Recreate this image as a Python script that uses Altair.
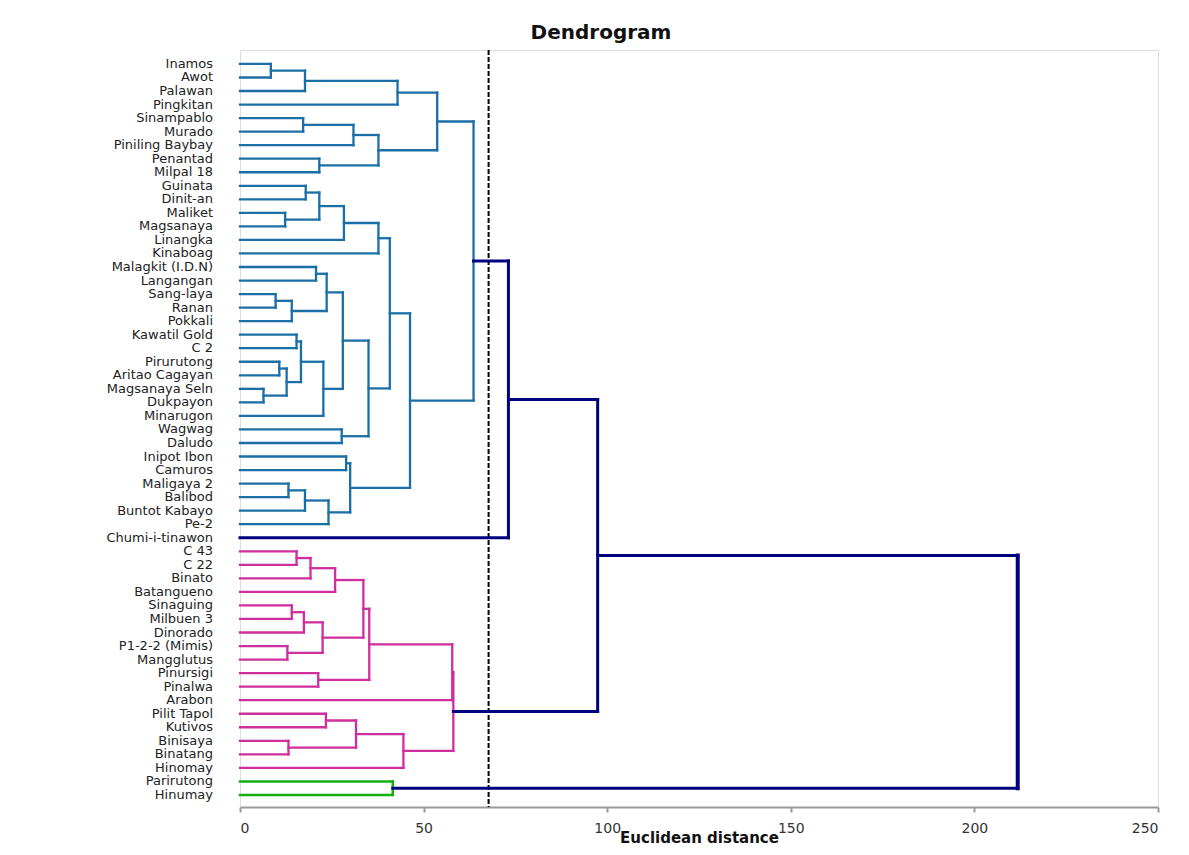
import altair as alt
import pandas as pd

leaves = ["Inamos", "Awot", "Palawan", "Pingkitan", "Sinampablo", "Murado",
          "Piniling Baybay", "Penantad", "Milpal 18", "Guinata", "Dinit-an",
          "Maliket", "Magsanaya", "Linangka", "Kinaboag", "Malagkit  (I.D.N)",
          "Langangan", "Sang-laya", "Ranan", "Pokkali", "Kawatil Gold", "C 2",
          "Pirurutong", "Aritao Cagayan", "Magsanaya Seln", "Dukpayon",
          "Minarugon", "Wagwag", "Daludo", "Inipot Ibon", "Camuros",
          "Maligaya 2", "Balibod", "Buntot Kabayo", "Pe-2", "Chumi-i-tinawon",
          "C 43", "C 22", "Binato", "Batangueno", "Sinaguing", "Milbuen 3",
          "Dinorado", "P1-2-2 (Mimis)", "Mangglutus", "Pinursigi", "Pinalwa",
          "Arabon", "Pilit Tapol", "Kutivos", "Binisaya", "Binatang",
          "Hinomay", "Parirutong", "Hinumay"]

# merges: (child a, child b, height, group); child = leaf name or earlier merge index
merge_a = ["Inamos", 0, 1, "Sinampablo", 3, "Penantad", 4, 2, "Guinata", "Maliket",
           8, 10, 11, "Malagkit  (I.D.N)", "Sang-laya", 14, 13, "Kawatil Gold",
           "Pirurutong", "Magsanaya Seln", 18, 17, 21, 16, "Wagwag", 23, 12,
           "Inipot Ibon", "Maligaya 2", 28, 29, 27, 26, 7, 33,
           "C 43", 35, 36, "Sinaguing", 38, "P1-2-2 (Mimis)", 39, 37, "Pinursigi",
           42, 44, "Pilit Tapol", "Binisaya", 46, 48, 45, 34, "Parirutong", 51]
merge_b = ["Awot", "Palawan", "Pingkitan", "Murado", "Piniling Baybay", "Milpal 18",
           5, 6, "Dinit-an", "Magsanaya", 9, "Linangka", "Kinaboag", "Langangan",
           "Ranan", "Pokkali", 15, "C 2", "Aritao Cagayan", "Dukpayon", 19, 20,
           "Minarugon", 22, "Daludo", 24, 25, "Camuros", "Balibod", "Buntot Kabayo",
           "Pe-2", 30, 31, 32, "Chumi-i-tinawon",
           "C 22", "Binato", "Batangueno", "Milbuen 3", "Dinorado", "Mangglutus",
           40, 41, "Pinalwa", 43, "Arabon", "Kutivos", "Binatang", 47, "Hinomay",
           49, 50, "Hinumay", 52]
merge_h = [8.4, 17.7, 42.9, 17.2, 30.9, 21.6, 37.7, 53.7, 17.9, 12.3,
           21.6, 28.3, 37.7, 20.7, 9.7, 14.1, 23.6, 15.4, 10.7, 6.4,
           12.7, 16.6, 22.7, 28.0, 27.7, 35.0, 40.8, 28.9, 13.2, 17.7,
           24.1, 30.0, 46.3, 63.6, 73.1,
           15.4, 19.2, 25.9, 14.1, 17.4, 12.9, 22.5, 33.6, 21.3, 35.2,
           57.8, 23.4, 13.2, 31.6, 44.5, 58.1, 97.4, 41.6, 211.8]
merge_group = ["blue"] * 34 + ["navy"] + ["pink"] * 16 + ["navy", "green", "navy"]

cutoff = [67.7]

group_colors = {"blue": "#1a6fa6", "navy": "#00007f", "pink": "#cf2f9e", "green": "#12b012"}
group_width = {"blue": 2.3, "navy": 3.0, "pink": 2.3, "green": 2.5}

leaf_pos = {n: i for i, n in enumerate(leaves)}
pos, hgt = [], []
segs = []
for k, (a, b, h, g) in enumerate(zip(merge_a, merge_b, merge_h, merge_group)):
    def info(c):
        if isinstance(c, str):
            return leaf_pos[c], 0.0
        return pos[c], hgt[c]
    pa, ha = info(a)
    pb, hb = info(b)
    col = group_colors[g]
    w = group_width[g]
    segs.append(dict(x=ha, x2=h, y=pa, y2=pa, c=col, w=w))
    segs.append(dict(x=hb, x2=h, y=pb, y2=pb, c=col, w=w))
    segs.append(dict(x=h, x2=h, y=pa, y2=pb, c=col, w=w + (1.0 if k == len(merge_h) - 1 else 0)))
    pos.append((pa + pb) / 2)
    hgt.append(h)

seg_df = pd.DataFrame(segs)
leaf_df = pd.DataFrame({"name": leaves, "idx": list(range(len(leaves))), "zero": [0] * len(leaves)})
cut_df = pd.DataFrame({"cut": cutoff})

xscale = alt.Scale(domain=[0, 250], nice=False, zero=True)
yscale = alt.Scale(domain=[-1.03, 54.89], reverse=True, nice=False, zero=False)

xaxis = alt.Axis(values=[0, 50, 100, 150, 200, 250], grid=False, title="Euclidean distance",
                 domainColor="#9a9a9a", domainWidth=2, tickColor="#9a9a9a", tickWidth=2,
                 tickSize=5, labelFont="DejaVu Sans", labelFontSize=14, labelColor="#333333",
                 labelPadding=9, titleFont="DejaVu Sans", titleFontSize=15,
                 titleFontWeight="bold", titleColor="#111111", titlePadding=-5)

lines = alt.Chart(seg_df).mark_rule(strokeCap="square").encode(
    x=alt.X("x:Q", scale=xscale, axis=xaxis),
    x2="x2:Q",
    y=alt.Y("y:Q", scale=yscale, axis=None),
    y2="y2:Q",
    color=alt.Color("c:N", scale=None),
    strokeWidth=alt.StrokeWidth("w:Q", scale=None),
)

labels = alt.Chart(leaf_df).mark_text(align="right", baseline="middle", dx=-27,
                                      font="DejaVu Sans", fontSize=13, color="#222222").encode(
    x=alt.X("zero:Q", scale=xscale),
    y=alt.Y("idx:Q", scale=yscale),
    text="name:N",
)

cut = alt.Chart(cut_df).mark_rule(color="#000000", strokeWidth=2, strokeDash=[5, 2]).encode(
    x=alt.X("cut:Q", scale=xscale),
)

chart = alt.layer(cut, lines, labels).properties(
    width=918, height=757,
    autosize=alt.AutoSizeParams(type="none"),
    padding={"left": 232, "top": 42, "right": 23, "bottom": 40},
    title=alt.TitleParams("Dendrogram", font="DejaVu Sans", fontSize=20, fontWeight="bold",
                          color="#111111", anchor="middle", dx=-98, offset=6),
).configure_view(stroke="#9a9a9a", strokeWidth=2).configure(background="white")

chart.save("out.html", embed_options={"renderer": "svg", "actions": False})
